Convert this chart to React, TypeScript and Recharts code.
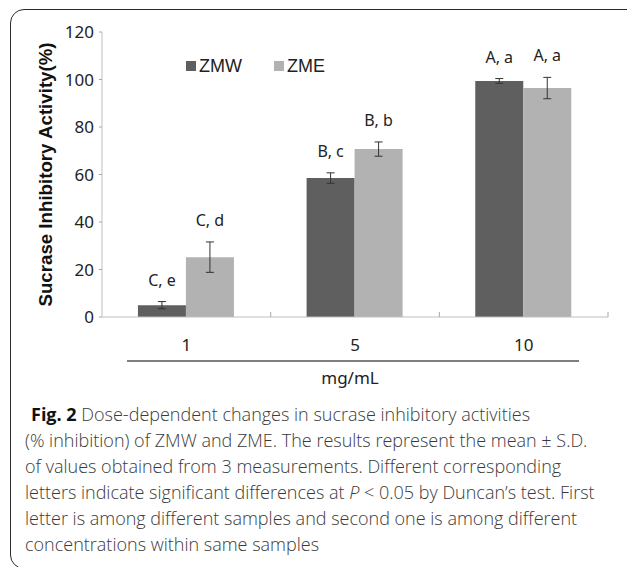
import React from "react"
import { BarChart, Bar, XAxis, YAxis, ErrorBar, LabelList, Legend } from "recharts"

const doses = ["1", "5", "10"]
const seriesNames = ["ZMW", "ZME"]
const zmwMean = [5.0, 58.5, 99.4]
const zmwSd = [1.5, 2.2, 1.0]
const zmeMean = [25.2, 70.7, 96.4]
const zmeSd = [6.4, 3.0, 4.5]
const zmwTags = ["C, e", "B, c", "A, a"]
const zmeTags = ["C, d", "B, b", "A, a"]
const yTicks = [0, 20, 40, 60, 80, 100, 120]

const ZMW_COLOR = "#5f5f5f"
const ZME_COLOR = "#b2b2b2"
const TICK_FONT = "'Noto Sans', Arial, sans-serif"

const data = doses.map((dose, i) => ({
  dose,
  zmw: zmwMean[i],
  zmwErr: zmwSd[i],
  zmwTag: zmwTags[i],
  zme: zmeMean[i],
  zmeErr: zmeSd[i],
  zmeTag: zmeTags[i],
}))

// letters sit a fixed distance above the top of each error bar
function tagLabel(meanKey: "zmw" | "zme", errKey: "zmwErr" | "zmeErr", tagKey: "zmwTag" | "zmeTag") {
  return (props: any) => {
    const vb = props.viewBox || props
    const { x, y, width, height } = vb
    const row =
      typeof props.index === "number" && data[props.index]
        ? data[props.index]
        : data.find((r) => r[tagKey] === props.value)
    if (!row) return null
    const pxPerUnit = height / row[meanKey]
    const errTop = y - row[errKey] * pxPerUnit
    return (
      <text
        x={x + width / 2}
        y={errTop - 22}
        textAnchor="middle"
        dominantBaseline="central"
        fontFamily={TICK_FONT}
        fontSize={16}
        fill="#222"
      >
        {row[tagKey]}
      </text>
    )
  }
}

function DoseTick(props: any) {
  const { x, y, payload } = props
  const half = payload && typeof payload.offset === "number" && payload.offset > 0 ? payload.offset : 84.3
  return (
    <g>
      <line x1={x + half} x2={x + half} y1={y} y2={y - 5} stroke="#a6a6a6" />
      <text
        x={x}
        y={y + 27}
        textAnchor="middle"
        dominantBaseline="central"
        fontFamily={TICK_FONT}
        fontSize={17}
        fill="#222"
      >
        {payload.value}
      </text>
    </g>
  )
}

function LegendBox(props: any) {
  const fallback = [
    { value: "ZMW", color: ZMW_COLOR },
    { value: "ZME", color: ZME_COLOR },
  ]
  const items = (props.payload && props.payload.length ? [...props.payload] : fallback).sort(
    (a: any, b: any) => seriesNames.indexOf(a.value) - seriesNames.indexOf(b.value)
  )
  return (
    <div style={{ display: "flex", alignItems: "center", fontFamily: "Arial, 'Liberation Sans', sans-serif", fontSize: 18, color: "#222" }}>
      {items.map((it: any, i: number) => (
        <div key={i} style={{ display: "flex", alignItems: "center", marginRight: i === 0 ? 32 : 0 }}>
          <span style={{ width: 10, height: 10, background: it.color, marginRight: 3, display: "inline-block" }} />
          <span style={{ lineHeight: "20px" }}>{it.value}</span>
        </div>
      ))}
    </div>
  )
}

const captionLines: React.ReactNode[] = [
  <>
    <tspan fontWeight={700} fill="#111">Fig. 2</tspan> Dose-dependent changes in sucrase inhibitory activities
  </>,
  "(% inhibition) of ZMW and ZME. The results represent the mean ± S.D.",
  "of values obtained from 3 measurements. Different corresponding",
  <>
    letters indicate significant differences at <tspan fontStyle="italic">P</tspan> &lt; 0.05 by Duncan’s test. First
  </>,
  "letter is among different samples and second one is among different",
  "concentrations within same samples",
]

export default function App() {
  return (
    <div style={{ position: "absolute", left: 0, top: 0, width: 627, height: 567, overflow: "hidden", background: "#fff" }}>
      <div
        style={{
          position: "absolute",
          left: 10,
          top: 9,
          width: 680,
          height: 558,
          border: "1.6px solid #2a2a2a",
          borderRadius: 14,
        }}
      />
      <div style={{ position: "absolute", left: 0, top: 0 }}>
        <BarChart
          width={627}
          height={400}
          data={data}
          margin={{ top: 32, right: 19, bottom: 13, left: 0 }}
          barCategoryGap="21.3%"
          barGap={0}
        >
          <XAxis
            dataKey="dose"
            height={70}
            tickSize={0}
            tickMargin={0}
            tickLine={false}
            axisLine={{ stroke: "#bfbfbf" }}
            tick={<DoseTick />}
            interval={0}
          />
          <YAxis
            width={102}
            domain={[0, 120]}
            ticks={yTicks}
            interval={0}
            tickSize={3}
            tickMargin={5}
            axisLine={{ stroke: "#bfbfbf" }}
            tickLine={{ stroke: "#a6a6a6" }}
            tick={{ fill: "#222", fontSize: 17, fontFamily: TICK_FONT }}
            label={{
              value: "Sucrase Inhibitory Activity(%)",
              angle: -90,
              position: "insideLeft",
              offset: 45,
              style: { textAnchor: "middle", fontFamily: "Arial, 'Liberation Sans', sans-serif", fontWeight: 700, fontSize: 18.7, fill: "#111" },
            }}
          />
          <Legend
            layout="horizontal"
            verticalAlign="middle"
            align="center"
            content={<LegendBox />}
            wrapperStyle={{ left: 186, top: 56, width: "auto", height: 22 }}
          />
          <Bar dataKey="zmw" name="ZMW" fill={ZMW_COLOR} isAnimationActive={false}>
            <ErrorBar dataKey="zmwErr" width={4} stroke="#333" strokeWidth={1} isAnimationActive={false} />
            <LabelList dataKey="zmwTag" content={tagLabel("zmw", "zmwErr", "zmwTag")} />
          </Bar>
          <Bar dataKey="zme" name="ZME" fill={ZME_COLOR} isAnimationActive={false}>
            <ErrorBar dataKey="zmeErr" width={4} stroke="#333" strokeWidth={1} isAnimationActive={false} />
            <LabelList dataKey="zmeTag" content={tagLabel("zme", "zmeErr", "zmeTag")} />
          </Bar>
        </BarChart>
      </div>
      <svg width={627} height={567} style={{ position: "absolute", left: 0, top: 0, pointerEvents: "none" }}>
        <line x1={127} x2={579} y1={361} y2={361} stroke="#555" strokeWidth={1.5} />
        <text x={350} y={377} textAnchor="middle" dominantBaseline="central" fontFamily={TICK_FONT} fontSize={17} fill="#222">
          mg/mL
        </text>
        {captionLines.map((line, i) => (
          <text
            key={i}
            x={i === 0 ? 31 : 25}
            y={421 + i * 26}
            fontFamily="'Open Sans', 'Noto Sans', sans-serif"
            fontWeight={300}
            fontSize={18}
            fill="#3a3a3a"
          >
            {line}
          </text>
        ))}
      </svg>
    </div>
  )
}
